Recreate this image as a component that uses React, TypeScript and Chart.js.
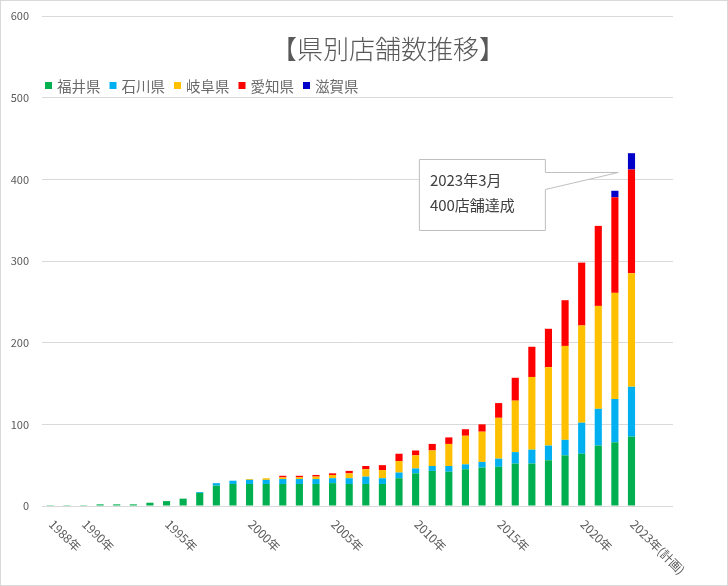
import React, { useEffect, useRef } from 'react';
import { Chart, registerables } from 'chart.js';

Chart.register(...registerables);

const FONT = '"Noto Sans CJK JP", "Noto Sans", sans-serif';

const titleText = '【県別店舗数推移】';

const categories = [
  '1988年', '1989年', '1990年', '1991年', '1992年', '1993年', '1994年', '1995年', '1996年', '1997年',
  '1998年', '1999年', '2000年', '2001年', '2002年', '2003年', '2004年', '2005年', '2006年', '2007年',
  '2008年', '2009年', '2010年', '2011年', '2012年', '2013年', '2014年', '2015年', '2016年', '2017年',
  '2018年', '2019年', '2020年', '2021年', '2022年', '2023年(計画)', '', '',
];

const shownTickLabels = ['1988年', '1990年', '1995年', '2000年', '2005年', '2010年', '2015年', '2020年', '2023年(計画)'];

const seriesNames = ['福井県', '石川県', '岐阜県', '愛知県', '滋賀県'];
const seriesColors = ['#00B050', '#00B0F0', '#FFC000', '#FF0000', '#0000C8'];

const fukui = [
  1, 1, 1, 2, 2, 2, 4, 6, 9, 16, 25, 27,
  27, 27, 27, 27, 27, 28, 27, 27, 27, 34,
  40, 43, 42, 45, 47, 48, 52, 52, 56, 62,
  64, 74, 78, 85, 0, 0,
];
const ishikawa = [
  0, 0, 0, 0, 0, 0, 0, 0, 0, 1, 3, 4,
  5, 5, 6, 6, 6, 6, 7, 9, 7, 7,
  6, 6, 7, 6, 7, 10, 14, 17, 18, 19,
  38, 45, 53, 61, 0, 0,
];
const gifu = [
  0, 0, 0, 0, 0, 0, 0, 0, 0, 0, 0, 0,
  1, 2, 2, 2, 3, 4, 6, 9, 10, 14,
  16, 19, 27, 35, 37, 50, 63, 89, 96, 115,
  119, 126, 130, 139, 0, 0,
];
const aichi = [
  0, 0, 0, 0, 0, 0, 0, 0, 0, 0, 0, 0,
  0, 0, 2, 2, 2, 2, 3, 4, 6, 9,
  6, 8, 8, 8, 9, 18, 28, 37, 47, 56,
  77, 98, 117, 127, 0, 0,
];
const shiga = [
  0, 0, 0, 0, 0, 0, 0, 0, 0, 0, 0, 0,
  0, 0, 0, 0, 0, 0, 0, 0, 0, 0,
  0, 0, 0, 0, 0, 0, 0, 0, 0, 0,
  0, 0, 8, 20, 0, 0,
];

const yTicks = { min: 0, max: 600, step: 100 };

const calloutLines = ['2023年3月', '400店舗達成'];
const calloutTarget = { index: 34, value: 409 };

const overlayPlugin = {
  id: 'overlay',
  beforeDraw(chart: any) {
    const ctx = chart.ctx;
    ctx.save();
    ctx.fillStyle = '#ffffff';
    ctx.fillRect(0, 0, chart.width, chart.height);
    ctx.restore();
  },
  afterDraw(chart: any) {
    const ctx = chart.ctx;
    const xs = chart.scales.x;
    const ys = chart.scales.y;
    ctx.save();

    // title
    ctx.fillStyle = '#595959';
    ctx.font = `300 26px ${FONT}`;
    ctx.textAlign = 'center';
    ctx.textBaseline = 'middle';
    ctx.fillText(titleText, 388, 49);

    // legend
    ctx.font = `14.5px ${FONT}`;
    ctx.textAlign = 'left';
    let lx = 45;
    seriesNames.forEach((name, i) => {
      ctx.fillStyle = seriesColors[i];
      ctx.fillRect(lx, 82, 7, 7);
      ctx.fillStyle = '#6a6a6a';
      ctx.fillText(name, lx + 12, 86);
      lx += 12 + ctx.measureText(name).width + 9;
    });

    // x tick labels, rotated downwards
    ctx.font = `12px ${FONT}`;
    ctx.fillStyle = '#595959';
    ctx.textAlign = 'left';
    ctx.textBaseline = 'middle';
    categories.forEach((c, i) => {
      if (!shownTickLabels.includes(c)) return;
      const px = xs.getPixelForValue(i) + 1;
      ctx.save();
      ctx.translate(px, 522);
      ctx.rotate(Math.PI / 4);
      ctx.fillText(c, 0, 0);
      ctx.restore();
    });

    // callout
    const tx = xs.getPixelForValue(calloutTarget.index) + 3;
    const ty = ys.getPixelForValue(calloutTarget.value);
    const left = tx - 199;
    const right = tx - 73;
    const top = ty - 13;
    const bottom = ty + 58;
    ctx.beginPath();
    ctx.moveTo(left + 0.5, top + 0.5);
    ctx.lineTo(right + 0.5, top + 0.5);
    ctx.lineTo(right + 0.5, ty + 0.5);
    ctx.lineTo(tx + 0.5, ty + 0.5);
    ctx.lineTo(right + 0.5, ty + 17.5);
    ctx.lineTo(right + 0.5, bottom + 0.5);
    ctx.lineTo(left + 0.5, bottom + 0.5);
    ctx.closePath();
    ctx.fillStyle = '#ffffff';
    ctx.fill();
    ctx.strokeStyle = '#bfbfbf';
    ctx.lineWidth = 1;
    ctx.stroke();
    ctx.fillStyle = '#404040';
    ctx.font = `15px ${FONT}`;
    ctx.textAlign = 'left';
    ctx.textBaseline = 'middle';
    ctx.fillText(calloutLines[0], left + 11, top + 21);
    ctx.fillText(calloutLines[1], left + 11, top + 46);

    // outer border
    ctx.strokeStyle = '#d9d9d9';
    ctx.lineWidth = 1;
    ctx.strokeRect(0.5, 0.5, chart.width - 1, chart.height - 1);
    ctx.restore();
  },
};

export default function App() {
  const ref = useRef<HTMLCanvasElement | null>(null);

  useEffect(() => {
    document.body.style.margin = '0';
    const canvas = ref.current;
    if (!canvas) return;
    const data = [fukui, ishikawa, gifu, aichi, shiga];
    const chart = new Chart(canvas, {
      type: 'bar',
      data: {
        labels: categories,
        datasets: seriesNames.map((name, i) => ({
          label: name,
          data: data[i],
          backgroundColor: seriesColors[i],
          borderWidth: 0,
          barPercentage: 0.43,
          categoryPercentage: 1,
        })),
      },
      options: {
        animation: false,
        responsive: false,
        devicePixelRatio: 1,
        layout: { padding: { top: 16, right: 55, left: 0, bottom: 0 } },
        plugins: {
          legend: { display: false },
          title: { display: false },
          tooltip: { enabled: false },
        },
        scales: {
          x: {
            stacked: true,
            ticks: { display: false },
            grid: { display: false },
            border: { display: false },
            afterFit(s: any) {
              s.height = 80;
              s.paddingLeft = 0;
              s.paddingRight = 0;
            },
          },
          y: {
            stacked: true,
            min: yTicks.min,
            max: yTicks.max,
            ticks: {
              stepSize: yTicks.step,
              color: '#595959',
              font: { size: 11, family: FONT },
              padding: 13,
            },
            grid: { color: '#d9d9d9', drawTicks: false, lineWidth: 1 },
            border: { display: false },
            afterFit(s: any) {
              s.width = 42;
              s.paddingTop = 0;
              s.paddingBottom = 0;
            },
          },
        },
      },
      plugins: [overlayPlugin],
    });
    return () => chart.destroy();
  }, []);

  return (
    <div style={{ width: 728, height: 586, margin: 0, padding: 0 }}>
      <canvas ref={ref} width={728} height={586} style={{ display: 'block' }} />
    </div>
  );
}
